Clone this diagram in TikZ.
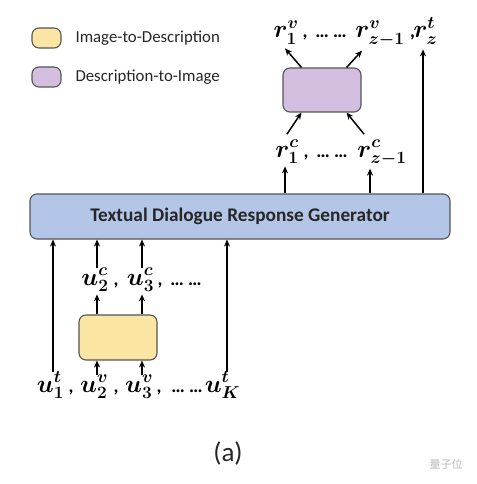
\documentclass[tikz,border=0pt]{standalone}
\usepackage[no-math]{fontspec}
\setmainfont{Carlito}
\newfontfamily\cjk{Noto Sans CJK SC}
\usepackage{amsmath,bm}
\usetikzlibrary{arrows.meta}
\definecolor{imgdesc}{RGB}{251,229,162}
\definecolor{descimg}{RGB}{212,190,224}
\definecolor{genblue}{RGB}{180,198,231}
\definecolor{boxline}{RGB}{85,85,85}
\definecolor{inktext}{RGB}{38,38,38}
\tikzstyle{module} = [draw=boxline, line width=1.1pt, rounded corners=7pt, inner sep=0pt]
\tikzstyle{arrow} = [line width=1.5pt, -{Stealth[length=7pt,width=6pt]}]
\tikzstyle{tok} = [inner sep=0pt, anchor=base, font=\fontsize{24.5}{28}\selectfont]
\tikzstyle{gap} = [inner sep=0pt, anchor=base, font=\fontsize{19}{22}\selectfont\bfseries]
\def\tk(#1){$\bm{#1}$}

\begin{document}
\begin{tikzpicture}[x=1pt,y=-1pt]
      \useasboundingbox (0,0) rectangle (476,484);
      % legend
      \node[module, fill=imgdesc, minimum width=29pt, minimum height=20pt] (legid) at (46.5,38) {};
      \node[anchor=west, text=inktext, font=\fontsize{16.8}{20}\selectfont] (legidtxt) at (72,38) {Image-to-Description};
      \node[module, fill=descimg, minimum width=29pt, minimum height=20pt] (legdi) at (46.5,77) {};
      \node[anchor=west, text=inktext, font=\fontsize{16.8}{20}\selectfont] (legditxt) at (72,77) {Description-to-Image};
      % boxes
      \node[module, fill=genblue, minimum width=420pt, minimum height=45pt, text=inktext, font=\fontsize{19.3}{22}\selectfont\bfseries] (gen) at (240,216.5) {Textual Dialogue Response Generator};
      \node[module, fill=descimg, minimum width=78pt, minimum height=44pt] (d2i) at (322,90) {};
      \node[module, fill=imgdesc, minimum width=78pt, minimum height=45pt] (i2d) at (118,337.5) {};
      % top row
      \node[tok] (r1v) at (286,38) {\tk(r^v_1)};
      \node[gap] (rcm1) at (305,38) {,};
      \node[gap] (rdots) at (331,38) {… …};
      \node[tok] (rzv) at (380,38) {\tk(r^v_{z-1})};
      \node[gap] (rcm2) at (412.5,38) {,};
      \node[tok] (rzt) at (425.5,38) {\tk(r^t_z)};
      % r^c row
      \node[tok] (r1c) at (287,157) {\tk(r^c_1)};
      \node[gap] (ccm1) at (306,157) {,};
      \node[gap] (cdots) at (332,157) {… …};
      \node[tok] (rzc) at (382,157) {\tk(r^c_{z-1})};
      % u^c row
      \node[tok] (u2c) at (95,285) {\tk(u^c_2)};
      \node[gap] (ucm1) at (116,285) {,};
      \node[tok] (u3c) at (140.5,285) {\tk(u^c_3)};
      \node[gap] (ucm2) at (160,285) {,};
      \node[gap] (udots) at (186,285) {… …};
      % bottom row
      \node[tok] (u1t) at (50.5,392) {\tk(u^t_1)};
      \node[gap] (bcm1) at (71,392) {,};
      \node[tok] (u2v) at (94,392) {\tk(u^v_2)};
      \node[gap] (bcm2) at (116,392) {,};
      \node[tok] (u3v) at (139,392) {\tk(u^v_3)};
      \node[gap] (bcm3) at (159,392) {,};
      \node[gap] (bdots) at (187,392) {… …};
      \node[tok] (uKt) at (222.5,392) {\tk(u^t_K)};
      % arrows
      \draw[arrow] ([xshift=2.5pt]u1t.north) -- ([xshift=2.5pt]u1t.north |- gen.south);
      \draw[arrow] ([xshift=4.5pt]uKt.north) -- ([xshift=4.5pt]uKt.north |- gen.south);
      \draw[arrow] ([xshift=3pt]u2v.north) -- ([xshift=3pt]u2v.north |- i2d.south);
      \draw[arrow] ([xshift=3pt]u3v.north) -- ([xshift=3pt]u3v.north |- i2d.south);
      \draw[arrow] ([xshift=2pt]i2d.north -| u2c) -- ([xshift=2pt,yshift=-3pt]u2c.south);
      \draw[arrow] ([xshift=1.5pt]i2d.north -| u3c) -- ([xshift=1.5pt,yshift=-3pt]u3c.south);
      \draw[arrow] ([xshift=2pt]u2c.north) -- ([xshift=2pt]u2c.north |- gen.south);
      \draw[arrow] ([xshift=1.5pt]u3c.north) -- ([xshift=1.5pt]u3c.north |- gen.south);
      \draw[arrow] ([xshift=-2pt]gen.north -| r1c) -- ([xshift=-2pt,yshift=-3pt]r1c.south);
      \draw[arrow] ([xshift=-12pt]gen.north -| rzc) -- ([xshift=-12pt,yshift=-3pt]rzc.south);
      \draw[arrow] ([xshift=-2.5pt]gen.north -| rzt) -- ([xshift=-2.5pt,yshift=-5pt]rzt.south);
      \draw[arrow] ([xshift=0pt,yshift=6pt]r1c.north) -- ([xshift=19pt]d2i.south west);
      \draw[arrow] ([xshift=-18pt,yshift=6pt]rzc.north) -- ([xshift=-15pt]d2i.south east);
      \draw[arrow] ([xshift=19pt]d2i.north west) -- ([xshift=-1pt,yshift=-4pt]r1v.south);
      \draw[arrow] ([xshift=-15pt]d2i.north east) -- ([xshift=-18pt,yshift=-4pt]rzv.south);
      % caption
      \node[text=inktext, font=\fontsize{27}{31}\selectfont] (cap) at (228,453) {(a)};
      \node[font=\cjk\fontsize{11}{13}\selectfont, text=gray!55] (mark) at (446,464) {量子位};
\end{tikzpicture}
\end{document}
